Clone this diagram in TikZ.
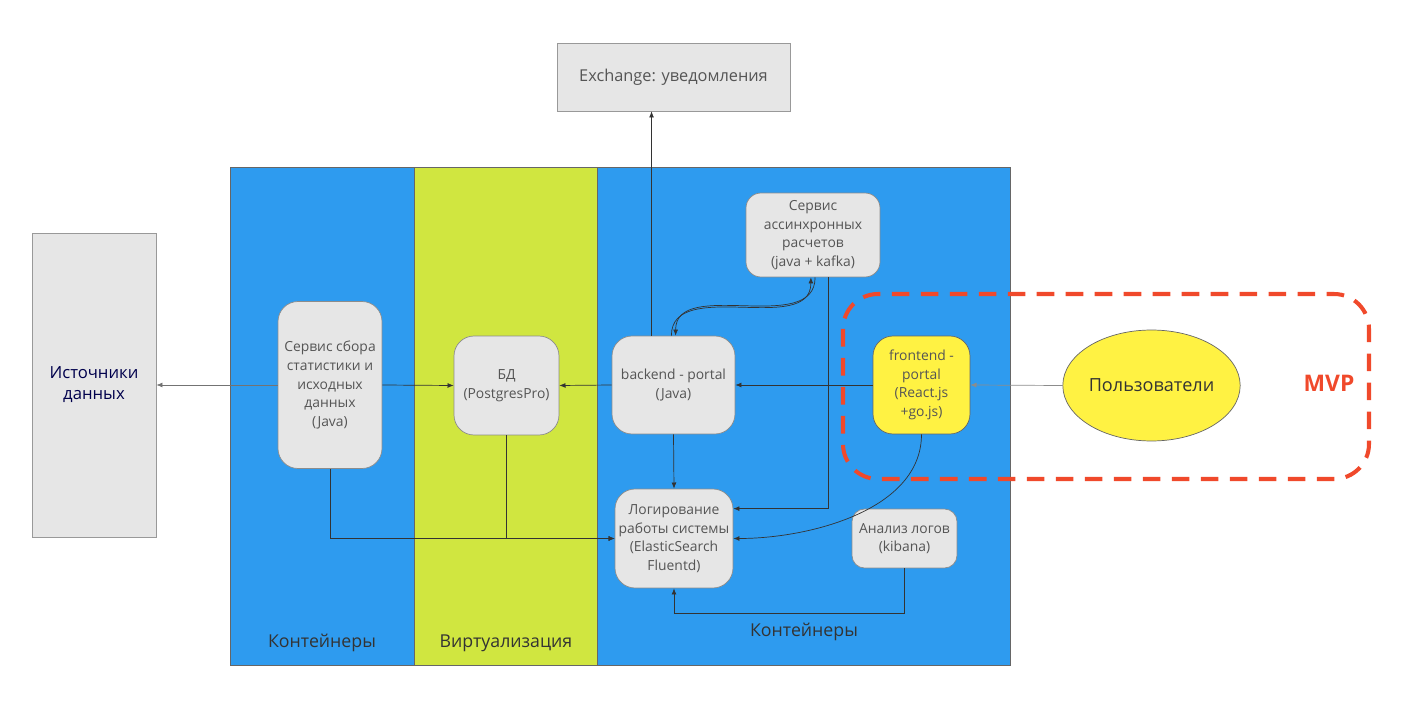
\documentclass[tikz,border=0pt]{standalone}
\usepackage{fontspec}
\setmainfont{Open Sans}
\usetikzlibrary{arrows.meta, shapes.geometric}
\definecolor{zoneblue}{RGB}{46,155,239}
\definecolor{zonelime}{RGB}{208,230,64}
\definecolor{boxgray}{RGB}{230,230,230}
\definecolor{boxyellow}{RGB}{255,242,67}
\definecolor{mvpred}{RGB}{240,73,43}
\definecolor{txtgray}{RGB}{85,85,85}

\begin{document}
\begin{tikzpicture}[x=0.02cm, y=-0.02cm,
svc/.style={draw=black!45, fill=boxgray, rounded corners=0.4cm, align=center, text=txtgray, font=\fontsize{7.9}{10.6}\selectfont, inner sep=1pt},
plain/.style={draw=black!40, fill=boxgray, align=center, text=txtgray, inner sep=1pt},
zone/.style={draw=black!60, line width=0.4pt},
link/.style={draw=black!80, line width=0.4pt, -{Latex[length=3.5pt,width=2.8pt]}},
zonelabel/.style={text=black!80, font=\fontsize{10.1}{12}\selectfont}]
\useasboundingbox (0,0) rectangle (1401,706);
% zones
\draw[zone, fill=zoneblue] (230,167) rectangle (414,665);
\draw[zone, fill=zonelime] (414,167) rectangle (597,665);
\draw[zone, fill=zoneblue] (597,167) rectangle (1010,665);
\node[zonelabel] (lbl1) at (322,643) {Контейнеры};
\node[zonelabel] (lbl2) at (506,643) {Виртуализация};
\node[zonelabel] (lbl3) at (804,632) {Контейнеры};
% boxes
\node[plain, minimum width=2.48cm, minimum height=6.08cm, text=blue!30!black, font=\fontsize{9.5}{12}\selectfont] (src) at (94,385) {Источники\\данных};
\node[plain, minimum width=4.66cm, minimum height=1.36cm, font=\fontsize{9.3}{10}\selectfont] (ex) at (673.5,77) {Exchange: уведомления};
\node[svc, minimum width=2.08cm, minimum height=3.34cm] (srv) at (330,385) {Сервис сбора\\статистики и\\исходных\\данных\\(Java)};
\node[svc, minimum width=2.1cm, minimum height=1.98cm] (db) at (506.5,385.5) {БД\\(PostgresPro)};
\node[svc, minimum width=2.46cm, minimum height=1.96cm] (be) at (673.5,385) {backend - portal\\(Java)};
\node[svc, rounded corners=0.3cm, minimum width=2.68cm, minimum height=1.68cm] (as) at (813,235) {Сервис\\ассинхронных\\расчетов\\(java + kafka)};
\node[svc, fill=boxyellow, draw=black!60, minimum width=1.94cm, minimum height=1.96cm] (fe) at (921.5,385) {frontend -\\portal\\(React.js\\+go.js)};
\node[svc, minimum width=2.36cm, minimum height=1.98cm] (log) at (674,538.5) {Логирование\\работы системы\\(ElasticSearch\\Fluentd)};
\node[svc, rounded corners=0.25cm, minimum width=2.1cm, minimum height=1.18cm] (an) at (904.5,538.5) {Анализ логов\\(kibana)};
\node[draw=black!60, fill=boxyellow, ellipse, inner sep=0pt, minimum width=3.54cm, minimum height=2.22cm, text=black!80, font=\fontsize{10.3}{12}\selectfont] (usr) at (1151.5,385.5) {Пользователи};
% MVP
\draw[mvpred, line width=2.3pt, dash pattern=on 10pt off 6.5pt, rounded corners=0.7cm] (843,294) rectangle (1369,479);
\node[text=mvpred, font=\fontsize{13}{14}\selectfont\bfseries] (mvp) at (1329,383) {MVP};
% links
\draw[link, draw=black!55] (srv.west) -- (src.east);
\draw[link] (srv.east) -- (db.west);
\draw[link] (be.west) -- (db.east);
\draw[link] (fe.west) -- (be.east);
\draw[link, draw=black!45] (usr.west) -- (fe.east);
\draw[link] ([xshift=-12.5pt]be.north) -- ([xshift=-12.5pt]ex.south);
\draw[link] ([xshift=-1.2pt]be.north) to[out=90, in=-90] ([xshift=-1.2pt]as.south);
\draw[link] ([xshift=1.2pt]as.south) to[out=-90, in=90] ([xshift=1.2pt]be.north);
\draw[link] ([xshift=9pt]as.south) |- ([yshift=17pt]log.east);
\draw[link] (be.south) -- (log.north);
\draw[link] (fe.south) to[out=-90, in=0, looseness=0.9] (log.east);
\draw[link] (srv.south) |- (log.west);
\draw[link] (db.south) |- (log.west);
\draw[link] (an.south) -- ++(0,45) -| (log.south);
\end{tikzpicture}
\end{document}
